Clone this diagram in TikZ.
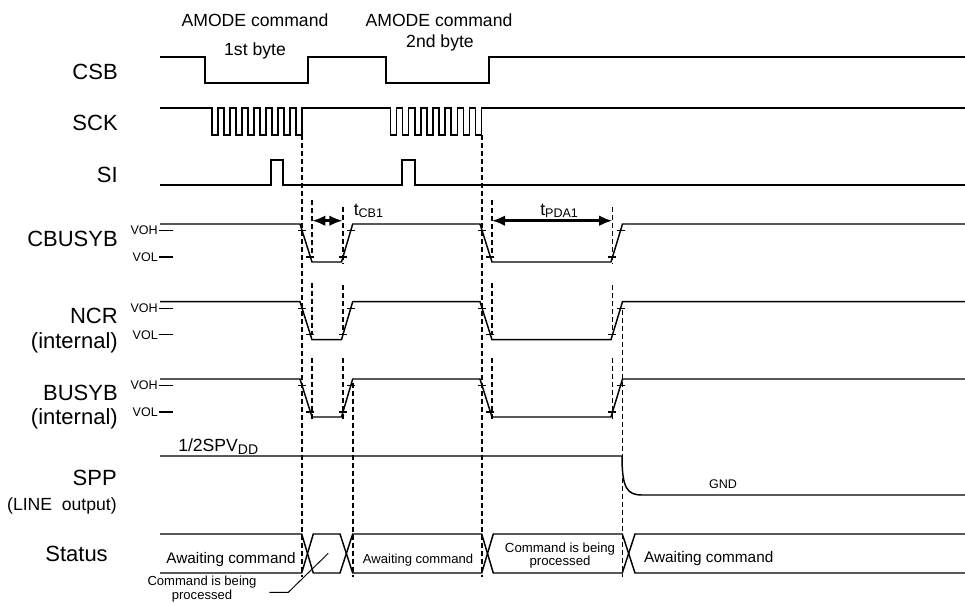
\documentclass[tikz,border=0pt]{standalone}
\usepackage{fontspec}
\setmainfont{Liberation Sans}
\usetikzlibrary{arrows.meta,calc}
\newcommand\fsz[1]{\fontsize{#1}{#1}\selectfont}
\newcommand\wave[2]{%
  \pgfmathsetmacro\Lo{#1+38}%
  \pgfmathsetmacro\Voh{#1+6.5}%
  \pgfmathsetmacro\Vol{#1+33}%
  \draw[sig] (160,#1) -- (300,#1) -- (312,\Lo) -- (341.5,\Lo) -- (352.7,#1) -- (480,#1) -- (492,\Lo) -- (611,\Lo) -- (622.5,#1) -- (965,#1);
  \foreach \a/\b in {300/312,480/492}{
    \draw[tick] ($(\a,#1)!0.171!(\b,\Lo)$) ++(-4,0) -- ++(8,0);
    \draw[tick] ($(\a,#1)!0.868!(\b,\Lo)$) ++(-4,0) -- ++(8,0);}
  \foreach \a/\b in {341.5/352.7,611/622.5}{
    \draw[tick] ($(\a,\Lo)!0.13!(\b,#1)$) ++(-4,0) -- ++(8,0);
    \draw[tick] ($(\a,\Lo)!0.83!(\b,#1)$) ++(-4,0) -- ++(8,0);}
  \draw[tick] (159,\Voh) -- (173,\Voh);
  \draw[tick] (159,\Vol) -- (173,\Vol);
  \node[lvl,anchor=east] (#2voh) at (158,\Voh) {VOH};
  \node[lvl,anchor=east] (#2vol) at (158,\Vol) {VOL};
}
\begin{document}
\begin{tikzpicture}[x=0.75pt,y=-0.75pt,
  sig/.style={line width=1.1pt,line join=miter},
  tick/.style={line width=0.9pt},
  guide/.style={line width=1.3pt,dash pattern=on 4pt off 2pt},
  lbl/.style={inner sep=0pt,font=\fsz{16.5}},
  sml/.style={inner sep=0pt,font=\fsz{13.2}},
  lvl/.style={inner sep=0pt,font=\fsz{9.4}},
  tim/.style={line width=2.1pt,{Latex[length=10pt,width=8pt]}-{Latex[length=10pt,width=8pt]}}]
\useasboundingbox (0,0) rectangle (965,604);
\fill[white] (0,0) rectangle (965,604);

% header texts
\node[sml,anchor=base] (am1) at (255,26) {AMODE command};
\node[sml,anchor=base] (by1) at (255,55) {1st byte};
\node[sml,anchor=base] (am2) at (439,26) {AMODE command};
\node[sml,anchor=base] (by2) at (440,47) {2nd byte};

% left labels
\node[lbl,anchor=base east] (lcsb) at (118,79.3) {CSB};
\node[lbl,anchor=base east] (lsck) at (118,130.7) {SCK};
\node[lbl,anchor=base east] (lsi) at (118,182.7) {SI};
\node[lbl,anchor=base east] (lcb) at (118,246.7) {CBUSYB};
\node[lbl,anchor=base east] (lncr) at (118,323.3) {NCR};
\node[lbl,anchor=base east] (lncri) at (118,348) {(internal)};
\node[lbl,anchor=base east] (lbsy) at (118,400) {BUSYB};
\node[lbl,anchor=base east] (lbsyi) at (118,424.5) {(internal)};
\node[lbl,anchor=base east] (lspp) at (117,485) {SPP};
\node[sml,anchor=base east] (lline) at (117,510.7) {(LINE\ \ output)};
\node[lbl,anchor=base east] (lst) at (108,561.7) {Status};

% CSB
\draw[sig] (160,57) -- (205,57) -- (205,83) -- (308,83) -- (308,57) -- (386,57) -- (386,83) -- (489,83) -- (489,57) -- (965,57);
% SCK
\draw[sig] (160,108) -- (212,108)
  \foreach \i in {0,...,7}{ -- ++(0,27) -- ++(6,0) -- ++(0,-27) -- ++(6,0)}
  -- (390.5,108)
  \foreach \i in {0,...,7}{ -- ++(0,27) -- ++(6.07,0) -- ++(0,-27) -- ++(6.07,0)}
  -- (965,108);
% SI
\draw[sig] (160,185) -- (271,185) -- (271,160) -- (283,160) -- (283,185) -- (402,185) -- (402,160) -- (415,160) -- (415,185) -- (965,185);

% CBUSYB, NCR, BUSYB
\wave{224}{cb}
\wave{301.7}{ncr}
\wave{379}{bsy}

% SPP
\draw[sig] (160,456) -- (622,456) .. controls (622,488) and (627,495) .. (642,495) -- (965,495);
\node[sml,anchor=base west] (vdd) at (178,451.7) {1/2SPV\raisebox{-0.35ex}{\fsz{10.5}DD}};
\node[lvl,anchor=base] (gnd) at (723,488.3) {GND};

% Status
\draw[sig] (160,534) -- (301.7,534) -- (313.3,573) -- (340,573) -- (352.7,534) -- (481.7,534) -- (493.3,573) -- (622.3,573) -- (635,534) -- (965,534);
\draw[sig] (160,573) -- (301.7,573) -- (313.3,534) -- (340,534) -- (352.7,573) -- (481.7,573) -- (493.3,534) -- (622.3,534) -- (635,573) -- (965,573);
\node[inner sep=0pt,font=\fsz{11.5},anchor=base] (st1) at (231,563.3) {Awaiting command};
\node[inner sep=0pt,font=\fsz{9.8},anchor=base] (st3) at (418,563.3) {Awaiting command};
\node[inner sep=0pt,font=\fontsize{9.9}{10.2}\selectfont,align=center] (st4) at (560,555.5) {Command is being\\processed};
\node[inner sep=0pt,font=\fsz{11.5},anchor=base] (st5) at (708.7,562.3) {Awaiting command};
\node[inner sep=0pt,font=\fontsize{9.8}{10.6}\selectfont,align=center] (ann) at (202,589) {Command is being\\processed};
\coordinate (annA) at (269.3,592.3);
\coordinate (annB) at (288.3,592.3);
\coordinate (annC) at (328.3,553.3);
\draw[line width=0.7pt] (annA) -- (annB) -- (annC);

% dashed guides
\foreach \x/\ya/\yb in {302/135/577, 481.7/135/577, 352.7/383/577, 622.5/310/577}
  \draw[guide] (\x,\ya) -- (\x,\yb);
\foreach \x in {312,491.7}{
  \draw[guide] (\x,200) -- (\x,258);
  \draw[guide] (\x,283) -- (\x,335);
  \draw[guide] (\x,358) -- (\x,420);}
\foreach \x in {342.7,612.5}{
  \draw[guide] (\x,207) -- (\x,264);
  \draw[guide] (\x,285) -- (\x,335);
  \draw[guide] (\x,358) -- (\x,420);}

% timing arrows
\coordinate (cbA) at (312,220.7);
\coordinate (cbB) at (342.7,220.7);
\coordinate (pdA) at (491.7,220.7);
\coordinate (pdB) at (612.5,220.7);
\draw[tim] (cbA) -- (cbB);
\draw[tim] (pdA) -- (pdB);
\node[sml,anchor=base west] (tcb) at (353.5,215) {t\raisebox{-0.3ex}{\fsz{9.4}CB1}};
\node[sml,anchor=base west] (tpd) at (540,215) {t\raisebox{-0.3ex}{\fsz{9.4}PDA1}};
\end{tikzpicture}
\end{document}
